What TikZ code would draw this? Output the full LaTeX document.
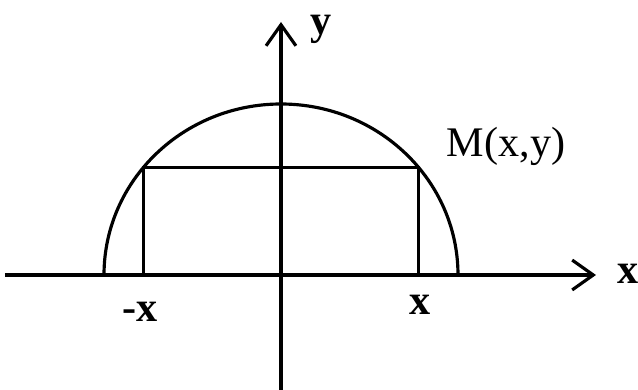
\documentclass[tikz,border=0pt]{standalone}
\usepackage{fontspec}
\setmainfont{Liberation Serif}
\usetikzlibrary{arrows.meta, positioning}

\begin{document}
\begin{tikzpicture}[
    every node/.style={inner sep=0pt, font=\fontsize{24}{28}\selectfont},
    axis/.style={line width=1.8pt, -{Straight Barb[length=12pt, width=17pt, line width=1.8pt]}},
    curve/.style={line width=1.8pt},
    lbl/.style={font=\fontsize{24}{28}\selectfont\bfseries}
]
\useasboundingbox (-5.62,-2.3) rectangle (7.14,5.5);
% Axes
\coordinate (O) at (0,0);
\coordinate (xl) at (-5.52,0);
\coordinate (xr) at (6.3,0);
\coordinate (yb) at (0,-2.3);
\coordinate (yt) at (0,5.06);
\draw[axis] (xl) -- (xr);
\draw[axis] (yb) -- (yt);
\node[lbl] (ylbl) at (0.8,4.92) {y};
\node[lbl] (xlbl) at (6.94,0.02) {x};
% Half ellipse
\coordinate (A) at (3.54,0);
\draw[curve] (A) arc[start angle=0, end angle=180, x radius=3.54, y radius=3.42];
% Rectangle under M
\coordinate (M) at (39:3.54 and 3.42);
\coordinate (N) at (141:3.54 and 3.42);
\coordinate (Mx) at (M |- O);
\coordinate (Nx) at (N |- O);
\draw[curve] (Nx) -- (N) -- (M) -- (Mx);
\node (Mlbl) at (4.5,2.58) {M(x,y)};
\node[lbl] (mxlbl) at (-2.82,-0.74) {-x};
\node[lbl] (pxlbl) at (2.78,-0.6) {x};
\end{tikzpicture}
\end{document}
